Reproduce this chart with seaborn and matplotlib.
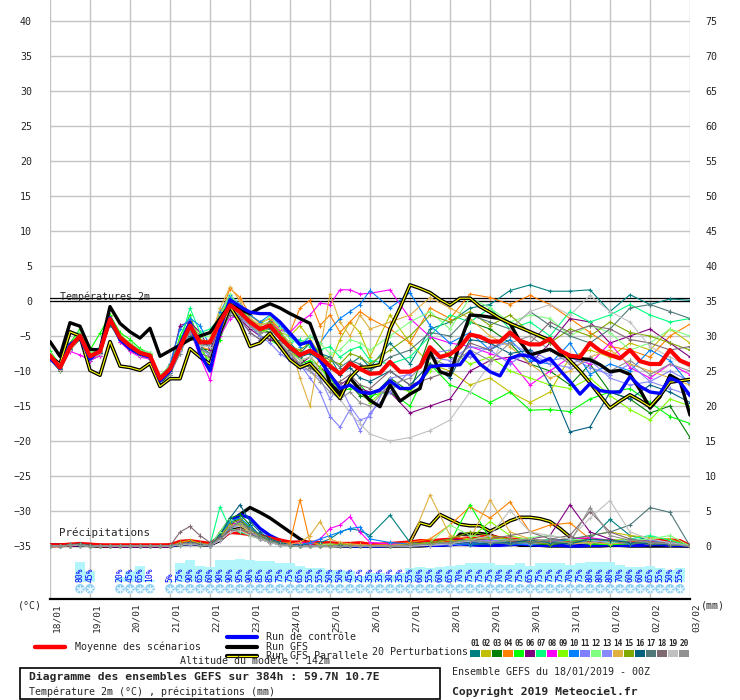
import matplotlib
matplotlib.use('Agg')
import matplotlib.pyplot as plt
import matplotlib.transforms as mtransforms
from matplotlib.lines import Line2D
from matplotlib.patches import Rectangle
import pandas as pd
import seaborn as sns

# echeances (heures depuis le 18/01 00Z)
heures = list(range(0, 390, 6))
heures_pert = list(range(0, 198, 6)) + list(range(204, 390, 12))
jours = ['18/01', '19/01', '20/01', '21/01', '22/01', '23/01', '24/01', '25/01', '26/01',
         '27/01', '28/01', '29/01', '30/01', '31/01', '01/02', '02/02', '03/02']

# temperature 2m
moyenne_t = [-7.8, -9.5, -6.6, -5.0, -7.9, -7.2, -2.6, -5.2, -6.4, -7.4, -7.8, -11.1, -9.7, -6.6, -3.5, -5.9,
             -5.9, -3.0, -0.6, -1.6, -3.0, -4.0, -3.5, -5.2, -6.6, -7.7, -7.1, -8.0, -9.3, -10.4, -8.9, -9.7,
             -10.4, -10.3, -8.7, -10.1, -10.1, -9.4, -6.6, -8.0, -7.6, -6.6, -4.8, -5.1, -5.8, -5.8, -4.5, -5.7,
             -6.2, -6.2, -5.4, -7.1, -7.8, -8.0, -6.0, -7.1, -7.7, -8.2, -7.0, -8.6, -9.0, -9.0, -7.0, -8.5, -9.1]
controle_t = [-8.2, -9.6, -6.2, -5.2, -8.3, -7.0, -2.4, -5.5, -6.8, -7.6, -8.0, -11.4, -10.0, -6.2, -3.0, -7.5,
              -10.0, -4.0, 0.2, -0.8, -1.6, -1.8, -1.8, -3.0, -4.6, -6.2, -5.8, -8.5, -10.5, -12.5, -12.0, -13.0,
              -13.2, -12.7, -11.4, -12.5, -12.5, -11.5, -9.4, -9.2, -9.2, -9.1, -7.2, -9.0, -10.1, -10.7, -8.2, -7.7,
              -7.9, -8.8, -8.2, -9.9, -11.5, -13.3, -11.8, -12.8, -13.0, -13.0, -10.8, -12.2, -13.0, -13.2, -11.0, -11.6, -13.5]
gfs_t = [-5.8, -7.9, -3.1, -3.6, -6.9, -7.0, -0.8, -3.2, -4.4, -5.3, -3.9, -7.9, -7.1, -6.3, -5.5, -5.0,
         -4.5, -2.5, -0.5, -1.2, -1.8, -1.0, -0.4, -1.0, -1.8, -2.5, -3.2, -7.0, -11.8, -13.2, -11.0, -12.7,
         -14.2, -15.1, -12.0, -14.3, -13.3, -12.5, -7.2, -10.1, -10.6, -6.0, -2.0, -2.1, -2.3, -2.5, -3.2, -5.8,
         -7.7, -7.3, -6.9, -7.7, -8.0, -8.2, -8.4, -9.1, -10.1, -9.9, -10.5, -12.7, -15.3, -13.7, -10.6, -11.4, -16.3]
parallele_t = [-8.0, -9.0, -4.4, -5.0, -9.9, -10.6, -5.8, -9.3, -9.5, -9.9, -8.9, -12.2, -11.1, -11.1, -6.8, -8.0,
               -9.0, -4.5, -0.8, -3.1, -6.5, -6.0, -4.6, -6.5, -8.4, -9.5, -8.9, -10.5, -12.2, -13.9, -11.0, -9.5,
               -9.4, -9.1, -4.0, -1.0, 2.3, 1.8, 1.2, 0.2, -0.6, 0.4, 0.4, -0.8, -1.6, -2.5, -3.2, -3.8,
               -4.4, -5.0, -5.6, -7.0, -8.5, -10.0, -11.7, -13.5, -15.3, -14.3, -13.4, -14.2, -15.1, -13.5, -11.6, -11.4, -11.2]

pert_t = {
    '01': [-8.0, -9.8, -6.9, -5.3, -8.2, -7.0, -2.9, -5.5, -6.8, -7.0, -7.5, -11.5, -10.3, -7.5, -4.0, -6.5, -7.5,
           -3.8, -1.0, -2.2, -3.5, -4.5, -2.8, -4.5, -6.0, -7.5, -6.0, -7.5, -8.0, -10.5, -9.0, -8.0, -9.5,
           -6, -9, -4, -3, -1, -0.5, 1.5, 2.3, 1.4, 1.4, 1.6, -1.5, 0.9, -0.5, 0.3, 0.1],
    '02': [-7.5, -9.2, -6.0, -4.6, -7.5, -6.8, -2.2, -4.8, -6.0, -7.8, -8.2, -11.5, -9.0, -5.5, -2.8, -5.0, -4.5,
           -2.0, 0.5, -1.0, -2.0, -3.0, -2.5, -4.5, -5.0, -3.5, -5.5, -7.5, -9.0, -5.5, -3.0, -4.5, -8.0,
           -2, -6, -9, -10, -12, -11, -13, -14.5, -13, -8, -7, -8, -6, -7, -4, -6],
    '03': [-8.3, -10.0, -7.0, -5.5, -8.5, -7.8, -3.2, -5.8, -7.0, -7.8, -8.3, -11.8, -10.5, -7.0, -4.2, -6.8, -7.0,
           -2.5, 0.0, -1.0, -2.5, -4.0, -4.5, -6.0, -7.5, -8.0, -9.5, -10.5, -12.0, -13.0, -12.0, -13.5, -14.0,
           -11, -13, -5, -8, -3, -4, -6, -9, -10, -12, -9, -13, -14, -16, -15, -19.5],
    '04': [-7.5, -9.8, -6.3, -4.8, -7.6, -7.5, -2.0, -5.0, -6.2, -7.2, -7.6, -10.8, -9.3, -5.8, -3.0, -6.5, -7.0,
           -2.2, 1.8, 0.5, -2.0, -3.2, -2.5, -4.0, -4.5, -1.0, 0.1, -3.5, -2.0, -4.5, -3.0, -1.5, -2.5,
           -4, -6, -1, -2.5, 1.0, 0.5, -0.5, 0.8, -0.5, -2.5, -4.5, -6.5, -7, -8, -5, -3.3],
    '05': [-7.2, -9.0, -6.0, -4.0, -7.0, -4.6, -2.0, -4.5, -5.5, -6.8, -7.5, -11.0, -10.0, -5.0, -2.0, -6.0, -9.5,
           -5.5, -1.5, -2.0, -3.5, -5.0, -5.5, -6.5, -8.0, -9.0, -8.5, -9.5, -11.0, -13.0, -12.5, -12.0, -13.5,
           -13, -15, -9, -12, -13, -14.5, -13, -15.6, -15.5, -15.8, -14, -13, -12.5, -14.5, -16.5, -17.5],
    '06': [-8.2, -9.7, -7.0, -5.2, -8.0, -7.5, -3.0, -5.5, -6.5, -7.5, -8.0, -11.3, -9.5, -3.5, -3.0, -4.5, -7.0,
           -3.5, -1.0, -2.5, -4.0, -5.0, -5.5, -6.0, -8.0, -9.0, -8.0, -9.5, -10.5, -12.0, -11.0, -12.5, -13.0,
           -13, -16, -15, -14, -10, -8.5, -8, -9, -6, -2.5, -3, -6, -5, -4, -6, -8],
    '07': [-7.5, -9.2, -6.3, -4.5, -7.8, -6.5, -2.5, -5.0, -6.0, -7.0, -7.4, -11.0, -9.3, -6.0, -1.0, -4.5, -4.0,
           -2.5, 0.5, -1.0, -2.5, -3.5, -3.0, -4.8, -6.0, -5.5, -6.5, -7.0, -6.5, -8.0, -7.0, -6.5, -8.5,
           -9, -8, -5, -2, -3, -1, -4, -3, -5, -1.5, -3, -2, -0.5, -2, -3, -2.5],
    '08': [-8.0, -9.8, -7.2, -7.7, -8.5, -7.8, -3.0, -5.8, -7.2, -8.0, -8.3, -11.3, -10.2, -7.0, -4.2, -8.0, -11.3,
           -5.0, -2.5, -2.0, -3.5, -4.0, -3.0, -4.2, -4.5, -3.0, -2.0, -0.3, -0.5, 1.6, 1.6, 1.0, 1.1,
           1.6, -2.5, -5.1, -6.0, -6.5, -7.5, -8.5, -12, -10, -8, -9, -6, -9.5, -11, -9, -10.5],
    '09': [-7.6, -9.3, -6.4, -4.8, -7.7, -7.0, -2.4, -5.0, -6.3, -7.3, -7.6, -10.8, -9.8, -7.0, -4.5, -7.0, -8.5,
           -3.5, -0.5, -1.2, -2.8, -4.5, -4.0, -5.5, -7.0, -8.5, -8.0, -9.5, -11.5, -12.5, -12.0, -13.0, -14.5,
           -12, -13, -10, -7, -9, -8, -10, -11, -12, -12.5, -11, -13.5, -15.5, -17, -14, -15],
    '10': [-8.1, -9.6, -6.8, -5.4, -8.2, -7.4, -3.2, -5.6, -6.7, -7.6, -8.0, -11.0, -9.0, -4.0, -2.5, -3.5, -6.5,
           -1.5, 0.8, -0.5, -2.0, -3.0, -2.0, -3.5, -5.0, -6.5, -5.0, -6.0, -4.0, -2.5, -1.5, -0.5, 1.5,
           -1.0, 1.2, -3.5, -6, -4.5, -7, -5.5, -8.5, -9, -6, -10.5, -9, -10, -7, -8.5, -12],
    '11': [-7.9, -9.6, -6.5, -5.0, -8.0, -7.3, -2.7, -5.3, -6.5, -7.5, -7.9, -11.2, -9.6, -6.5, -3.5, -6.5, -8.0,
           -4.0, -2.0, -2.5, -3.5, -5.0, -6.0, -7.5, -8.5, -9.0, -11.0, -13.0, -16.5, -18.0, -15.5, -18.5, -16.0,
           -13, -10, -8, -8.5, -6.5, -7, -9, -7, -8.5, -8, -9.5, -10.5, -9, -11.5, -10, -11.5],
    '12': [-7.4, -9.1, -6.2, -4.5, -7.4, -6.8, -2.3, -4.9, -6.0, -7.0, -7.4, -10.6, -9.2, -6.2, -3.0, -5.2, -5.0,
           -2.0, 1.0, -0.8, -2.5, -3.5, -2.2, -3.8, -5.5, -6.0, -5.0, -6.0, -7.5, -7.0, -5.5, -6.0, -7.0,
           -5, -3, -1.5, -4, 0.5, -1, -3, -2, -2.5, -5, -3.5, -4.5, -7, -6, -4, -5],
    '13': [-8.1, -9.7, -6.9, -5.2, -8.1, -7.4, -2.8, -5.4, -6.6, -7.6, -8.0, -11.4, -10.0, -7.2, -4.5, -7.5, -9.0,
           -4.5, -1.5, -2.8, -4.5, -5.5, -5.0, -6.5, -8.0, -9.5, -10.0, -11.0, -14.0, -12.0, -15.0, -17.0, -16.5,
           -11, -10.5, -7.5, -7, -8, -6.5, -6, -7.5, -9, -9.5, -8.5, -11, -12, -11.5, -12.5, -13.5],
    '14': [-7.7, -9.4, -6.5, -5.2, -7.8, -7.1, -2.5, -5.1, -6.3, -7.3, -7.8, -11.0, -9.5, -6.0, -3.8, -6.0, -5.5,
           -1.0, 2.0, 0.0, -2.5, -3.5, -3.0, -4.5, -6.0, -11.0, -15.0, -7.0, 1.0, -3.0, -5.0, -2.0, -4.0,
           -3, -2, 0.5, -1, -2.5, -5, -6.5, -9, -11, -10, -8, -7, -9, -10, -11, -12],
    '15': [-7.9, -9.5, -6.7, -5.1, -8.0, -7.3, -2.7, -5.3, -6.4, -7.5, -7.9, -11.1, -9.8, -6.8, -3.3, -5.5, -5.8,
           -3.2, -1.0, -1.8, -3.2, -4.2, -3.0, -4.5, -6.5, -7.0, -6.0, -7.5, -8.5, -9.0, -7.5, -8.0, -9.0,
           -7, -5, -2, -3, -1.5, -3.5, -2, -4.5, -6, -4, -5, -3, -4.5, -5, -6, -7],
    '16': [-8.0, -9.7, -6.8, -5.2, -8.1, -7.4, -3.4, -5.4, -6.6, -7.6, -8.0, -11.3, -10.0, -7.0, -5.0, -6.5, -6.0,
           -2.8, -0.2, -1.2, -3.0, -4.0, -3.8, -5.5, -7.0, -8.0, -7.5, -8.5, -9.5, -10.5, -9.5, -11.0, -11.5,
           -10, -12, -9, -11, -5.5, -6, -7.5, -7, -12, -18.7, -18, -13, -14, -12, -13, -14.5],
    '17': [-7.8, -9.5, -6.6, -5.0, -7.9, -7.2, -2.6, -5.2, -6.4, -7.4, -7.8, -11.1, -9.7, -6.6, -3.0, -6.0, -6.5,
           -3.2, -1.0, -1.5, -3.0, -4.0, -4.0, -5.5, -7.0, -8.0, -7.0, -8.5, -8.0, -9.5, -8.5, -9.0, -10.0,
           -8, -7, -4.5, -5, -2, -3, -4, -1.5, -3.5, -5, -6, -4, -1, -0.5, -1.5, -2.5],
    '18': [-7.7, -9.3, -6.4, -4.9, -7.8, -7.0, -2.5, -5.1, -6.3, -7.3, -7.7, -10.9, -9.5, -6.0, -4.0, -7.5, -8.0,
           -4.5, -2.0, -2.5, -4.5, -5.5, -5.0, -6.5, -7.5, -9.0, -9.5, -10.5, -12.0, -11.5, -10.5, -12.0, -12.5,
           -10, -12, -11, -10, -6, -7, -5, -6, -3, -4.5, -3.5, -4, -5.5, -6, -7, -6.5],
    '19': [-8.2, -9.9, -7.0, -5.4, -8.3, -7.6, -3.0, -5.6, -6.8, -7.8, -8.2, -11.5, -10.1, -7.0, -4.0, -6.4, -6.5,
           -3.5, -1.2, -2.0, -3.5, -4.5, -4.5, -6.0, -7.5, -8.5, -8.0, -10.0, -11.5, -14.0, -16.0, -17.5, -19.0,
           -20, -19.5, -18.5, -17, -13, -9, -4, -1.5, -0.5, -2, 0.8, -1.5, -3, -6.5, -8, -9.5],
    '20': [-7.8, -9.6, -6.6, -5.1, -8.0, -7.3, -2.7, -5.3, -6.5, -7.5, -7.8, -11.4, -10.5, -7.5, -4.5, -7.0, -7.5,
           -4.0, -1.5, -2.0, -3.5, -4.5, -4.5, -6.0, -7.5, -9.0, -10.0, -11.5, -13.0, -14.0, -13.0, -14.5, -15.0,
           -12, -11, -8, -9.5, -7, -8.5, -6, -5, -7, -9, -8, -10, -8.5, -10.5, -9, -10],
}

# precipitations (mm)
moyenne_p = [0.1, 0.1, 0.2, 0.3, 0.2, 0.1, 0.1, 0.1, 0.1, 0.1, 0.1, 0.1, 0.1, 0.6, 0.7, 0.5, 0.3, 1.1, 2.0, 1.9,
             1.7, 1.4, 1.1, 0.8, 0.5, 0.5, 0.5, 0.4, 0.4, 0.3, 0.3, 0.4, 0.2, 0.2, 0.3, 0.4, 0.5, 0.7, 0.7, 0.8,
             0.9, 1.0, 1.1, 1.2, 1.4, 1.1, 0.9, 0.9, 0.8, 0.6, 0.5, 0.7, 0.9, 0.9, 0.8, 0.7, 0.6, 0.5, 0.5, 0.6,
             0.7, 0.7, 0.8, 0.7, 0.0]
controle_p = [0.1, 0.1, 0.1, 0.2, 0.1, 0.1, 0, 0, 0, 0, 0, 0, 0, 0.3, 0.5, 0.3, 0.2, 1.5, 3.5, 4.5,
              4.0, 2.5, 1.5, 0.8, 0.4, 0.2, 0.1, 0.1, 0.1, 0.1, 0, 0, 0, 0, 0.1, 0.1, 0.2, 0.2, 0.1, 0.1,
              0.2, 0.3, 0.2, 0.1, 0.1, 0.1, 0.2, 0.3, 0.2, 0.1, 0.1, 0.1, 0, 0, 0.1, 0.1, 0.2, 0.1, 0.1, 0.1,
              0.2, 0.2, 0.1, 0.1, 0.0]
gfs_p = [0.1, 0.1, 0.1, 0.1, 0.1, 0, 0, 0, 0, 0, 0, 0, 0, 0.2, 0.3, 0.2, 0.1, 1.0, 3.0, 4.5,
         5.5, 4.8, 4.0, 3.0, 2.0, 1.0, 0.3, 0.1, 0.1, 0, 0, 0, 0, 0, 0, 0, 0, 0, 0.1, 0.1,
         0.2, 1.7, 1.7, 1.8, 1.6, 1.0, 0.4, 0.1, 0.1, 0.1, 0, 0, 0, 0, 0, 0, 0.1, 0.1, 0, 0,
         0, 0, 0, 0, 0.0]
parallele_p = [0.1, 0.1, 0.1, 0.1, 0.1, 0, 0, 0, 0, 0, 0, 0, 0.1, 0.4, 0.5, 0.3, 0.2, 0.8, 2.2, 2.5,
               2.0, 1.5, 1.0, 0.5, 0.2, 0.1, 0.1, 0.1, 0.1, 0.1, 0.1, 0.1, 0.1, 0.1, 0.1, 0.1, 0.6, 3.3, 2.9, 4.5,
               3.8, 3.1, 2.9, 2.9, 2.1, 2.8, 3.6, 4.1, 4.1, 3.9, 3.5, 2.5, 1.3, 0.4, 0.2, 0.1, 0.1, 0.1, 0.1, 0.1,
               0.1, 0.1, 0.1, 0.1, 0.0]

pert_p = {
    '01': [0, 0, 0.2, 0.3, 0.1, 0, 0, 0, 0, 0, 0, 0, 0, 0.3, 0.5, 0.3, 0.1, 1.5, 3.0, 3.5, 2.5, 1.5, 1.0, 0.5, 0.2,
           0.1, 0.3, 0.5, 1.0, 2.0, 2.5, 2.2, 1.5, 4.4, 0.5, 0.3, 0.5, 0.2, 0.3, 0.5, 0.3, 0.2, 0.5, 1.0, 3.8, 1.5, 0.8, 0.5, 0],
    '02': [0, 0, 0.1, 0.2, 0, 0, 0, 0, 0, 0, 0, 0, 0, 0.5, 0.8, 0.4, 0.2, 1.0, 2.5, 3.0, 2.0, 1.2, 0.6, 0.3, 0.1,
           0, 0, 0, 0.1, 0.2, 0.1, 0, 0, 0, 0.2, 0.5, 0.8, 1.0, 1.2, 1.0, 0.8, 0.5, 0.8, 1.5, 2.0, 1.5, 1.2, 1.0, 0],
    '03': [0, 0, 0.1, 0.1, 0, 0, 0, 0, 0, 0, 0, 0, 0, 0.2, 0.4, 0.2, 0.1, 2.0, 4.0, 4.5, 3.0, 1.5, 0.8, 0.3, 0.1,
           0, 0, 0, 0, 0.1, 0, 0, 0, 0, 0.1, 0.3, 0.5, 1.0, 0.8, 0.5, 0.3, 0.2, 0.5, 0.3, 0.2, 0.5, 0.3, 0.2, 0],
    '04': [0, 0, 0.1, 0.2, 0, 0, 0, 0, 0, 0, 0, 0, 0, 0.3, 0.5, 0.3, 0.1, 1.0, 2.0, 2.5, 1.5, 1.0, 0.5, 0.3, 0.5,
           6.6, 0.5, 0.3, 0.2, 0.1, 0.1, 0.2, 0.1, 0.2, 0.5, 1.0, 3.0, 5.6, 4.0, 6.3, 2.0, 3.0, 3.3, 1.0, 0.5, 0.8, 0.5, 0.3, 0],
    '05': [0, 0, 0.1, 0.1, 0, 0, 0, 0, 0, 0, 0, 0, 0, 0.2, 0.3, 0.2, 0.1, 1.5, 3.5, 4.0, 2.5, 1.5, 0.8, 0.3, 0.1,
           0, 0, 0, 0, 0, 0, 0, 0, 0, 0.1, 0.3, 0.5, 5.9, 1.0, 0.5, 0.3, 0.5, 0.5, 0.3, 0.2, 0.3, 0.5, 0.2, 0],
    '06': [0, 0, 0.1, 0.2, 0, 0, 0, 0, 0, 0, 0, 0, 0, 0.3, 0.5, 0.3, 0.1, 1.0, 3.0, 3.8, 2.2, 1.0, 0.5, 0.2, 0.1,
           0, 0, 0, 0, 0, 0.1, 0, 0, 0, 0.2, 0.5, 1.0, 0.8, 0.5, 0.3, 1.0, 1.5, 5.9, 2.0, 1.0, 0.5, 0.3, 0.2, 0],
    '07': [0, 0, 0.1, 0.1, 0, 0, 0, 0, 0, 0, 0, 0, 0, 0.2, 0.4, 0.3, 0.1, 5.6, 2.5, 2.0, 1.5, 1.0, 0.5, 0.2, 0.1,
           0, 0, 0, 0, 0, 0, 0, 0, 0, 0.1, 0.3, 0.5, 0.8, 0.5, 0.3, 0.5, 1.0, 0.8, 0.5, 0.3, 1.0, 1.5, 0.8, 0],
    '08': [0, 0, 0.1, 0.1, 0, 0, 0, 0, 0, 0, 0, 0, 0, 0.3, 0.5, 0.3, 0.1, 1.2, 3.0, 3.5, 2.0, 1.2, 0.6, 0.3, 0.2,
           0.5, 0.3, 1.0, 2.5, 3.0, 4.2, 2.0, 0.5, 0.3, 0.2, 0.2, 0.3, 0.5, 0.8, 1.0, 0.5, 0.8, 1.0, 1.2, 0.8, 0.5, 0.3, 0.2, 0],
    '09': [0, 0, 0.1, 0.1, 0, 0, 0, 0, 0, 0, 0, 0, 0, 0.2, 0.3, 0.2, 0.1, 1.0, 2.8, 3.3, 2.2, 1.2, 0.6, 0.3, 0.1,
           0, 0, 0, 0, 0, 0, 0, 0, 0, 0.1, 0.2, 0.5, 1.0, 3.5, 1.5, 0.8, 0.5, 0.3, 0.5, 0.8, 1.0, 0.5, 0.3, 0],
    '10': [0, 0, 0.1, 0.2, 0, 0, 0, 0, 0, 0, 0, 0, 0, 0.3, 0.4, 0.2, 0.1, 1.5, 3.5, 4.0, 2.8, 1.5, 0.8, 0.3, 0.1,
           0.2, 0.5, 1.0, 1.5, 2.0, 2.5, 2.7, 1.0, 0.5, 0.3, 0.2, 0.2, 0.3, 0.5, 0.3, 0.2, 0.5, 1.0, 0.8, 0.5, 0.3, 0.5, 0.3, 0],
    '11': [0, 0, 0.1, 0.1, 0, 0, 0, 0, 0, 0, 0, 0, 0, 0.1, 0.2, 0.1, 0, 0.8, 2.0, 2.5, 1.8, 1.0, 0.5, 0.2, 0.1,
           0, 0, 0, 0, 0, 0, 0, 0, 0, 0, 0.1, 0.3, 0.5, 0.8, 1.0, 0.5, 0.3, 0.5, 0.8, 0.5, 1.0, 0.8, 0.5, 0],
    '12': [0, 0, 0.1, 0.2, 0, 0, 0, 0, 0, 0, 0, 0, 0, 0.2, 0.3, 0.2, 0.1, 2.0, 3.8, 3.0, 2.0, 1.0, 0.5, 0.2, 0.1,
           0, 0, 0.2, 0.3, 0.2, 0.1, 0, 0, 0, 0.2, 0.5, 3.0, 1.5, 1.0, 0.8, 1.2, 1.5, 1.0, 0.8, 0.5, 0.8, 1.0, 1.5, 0],
    '13': [0, 0, 0.1, 0.1, 0, 0, 0, 0, 0, 0, 0, 0, 0, 0.2, 0.3, 0.2, 0.1, 1.0, 2.5, 3.0, 2.0, 1.0, 0.5, 0.2, 0.1,
           0, 0, 0, 0, 0, 0, 0, 0, 0, 0, 0.1, 0.2, 0.5, 0.8, 0.5, 0.3, 0.5, 0.3, 0.5, 0.8, 0.5, 0.3, 0.2, 0],
    '14': [0, 0, 0.1, 0.1, 0, 0, 0, 0, 0, 0, 0, 0, 0, 0.3, 0.5, 0.3, 0.1, 1.5, 3.0, 3.0, 2.0, 1.5, 1.0, 0.5, 0.3,
           0.5, 1.5, 3.5, 1.0, 0.5, 0.3, 0.2, 0.1, 0.1, 0.3, 7.3, 1.5, 1.0, 6.6, 2.0, 1.0, 0.5, 0.3, 0.5, 0.3, 0.5, 0.3, 0.2, 0],
    '15': [0, 0, 0.1, 0.2, 0, 0, 0, 0, 0, 0, 0, 0, 0, 0.2, 0.4, 0.2, 0.1, 1.2, 3.2, 3.8, 2.5, 1.5, 0.8, 0.3, 0.1,
           0, 0, 0, 0.1, 0.2, 0.1, 0, 0, 0, 0.2, 0.5, 1.0, 2.0, 1.5, 1.0, 0.5, 0.3, 0.5, 1.0, 0.8, 0.5, 0.3, 0.2, 0],
    '16': [0, 0, 0.1, 0.2, 0, 0, 0, 0, 0, 0, 0, 0, 0, 0.3, 0.5, 0.3, 0.1, 1.5, 4.0, 5.9, 3.5, 2.0, 1.0, 0.5, 0.2,
           0.1, 0, 0, 0, 0.1, 0, 0, 0, 0, 0.1, 0.2, 0.3, 0.5, 0.3, 0.5, 0.8, 0.5, 0.3, 1.0, 0.8, 0.5, 0.3, 0.2, 0],
    '17': [0, 0, 0.1, 0.1, 0, 0, 0, 0, 0, 0, 0, 0, 0, 0.2, 0.3, 0.2, 0.1, 1.0, 2.5, 3.5, 2.5, 1.5, 0.8, 0.3, 0.1,
           0, 0, 0, 0, 0, 0, 0, 0, 0, 0.1, 0.2, 0.5, 0.8, 0.5, 0.3, 0.5, 0.8, 1.0, 1.5, 2.0, 3.0, 5.5, 4.8, 0],
    '18': [0, 0, 0.1, 0.2, 0, 0, 0, 0, 0, 0, 0, 0, 0, 2.0, 2.8, 1.5, 0.5, 1.2, 2.0, 2.5, 1.8, 1.0, 0.5, 0.2, 0.1,
           0, 0, 0, 0, 0, 0, 0, 0, 0, 0.1, 0.2, 0.5, 0.8, 1.0, 1.5, 2.0, 1.0, 1.5, 4.9, 2.0, 1.0, 0.5, 0.3, 0],
    '19': [0, 0, 0.1, 0.1, 0, 0, 0, 0, 0, 0, 0, 0, 0, 0.2, 0.3, 0.2, 0.1, 0.8, 2.0, 2.2, 1.5, 1.0, 0.5, 0.2, 0.1,
           0, 0, 0, 0, 0, 0, 0, 0, 0, 0, 0.1, 0.3, 0.8, 1.5, 5.1, 2.0, 1.5, 1.0, 4.0, 6.5, 2.0, 1.0, 0.5, 0],
    '20': [0, 0, 0.1, 0.2, 0, 0, 0, 0, 0, 0, 0, 0, 0, 0.3, 0.4, 0.2, 0.1, 1.0, 2.8, 3.2, 2.2, 1.2, 0.6, 0.3, 0.1,
           0, 0, 0, 0, 0, 0, 0, 0, 0, 0.1, 0.3, 0.5, 0.8, 0.5, 0.8, 1.0, 0.8, 0.5, 5.5, 1.5, 0.8, 0.5, 0.3, 0],
}

couleurs_pert = ['#008080', '#c0c000', '#008000', '#ff8000', '#00ff00', '#800080', '#00ff80', '#ff00ff',
                 '#80ff00', '#0080ff', '#8080ff', '#80ff80', '#8888ff', '#e0b040', '#80a800', '#006080',
                 '#507878', '#806870', '#c0c0c0', '#909090']

# probabilite de neige (%) par pas de 6h, None = pas de neige
heures_neige = list(range(18, 384, 6))
neige_pct = [80, 45, None, None, 20, 45, 65, 10, None, 5, 75, 90, 65, 60, 90, 90, 95, 90, 85, 85, 75, 75,
             65, 55, 55, 50, 50, 45, 25, 35, 35, 30, 35, 55, 60, 55, 60, 65, 70, 75, 75, 75, 70, 70, 75, 65,
             75, 75, 75, 70, 75, 80, 80, 80, 70, 60, 60, 65, 55, 50, 55]

sns.set_style('white')
plt.rcParams['font.family'] = ['DejaVu Sans Mono', 'DejaVu Sans']
mono = 7.2

fig = plt.figure(figsize=(7.4, 7.0), dpi=100)
ax = fig.add_axes([50 / 740, 101 / 700, 640 / 740, 599 / 700])
ylo, yhi = -42.57, 43.0
ax.set_xlim(0, 384)
ax.set_ylim(ylo, yhi)

ax.set_yticks(range(-35, 45, 5))
ax.set_xticks(range(0, 385, 24))
ax.set_xticklabels([])
ax.grid(True, color='#c4c4c4', lw=1.0)
ax.set_axisbelow(True)
for s in ['left', 'right', 'top']:
    ax.spines[s].set_visible(False)
ax.spines['bottom'].set_color('black')
ax.spines['bottom'].set_linewidth(1.6)
ax.tick_params(axis='y', length=0, pad=13, labelsize=mono)
ax.tick_params(axis='x', length=9, width=1, color='#b0b0b0', direction='out')

# ligne des 0 degres
ax.axhline(0, color='black', lw=0.9, zorder=3)
ax.axhline(0.4, color='black', lw=0.9, zorder=3)
ax.text(6, 0.55, 'Températures 2m', fontsize=mono, va='center', ha='left', zorder=4)
ax.text(5.4, -33.1, 'Précipitations', fontsize=mono + 0.6, va='center', ha='left', zorder=4)

palette = {k: c for k, c in zip(pert_t.keys(), couleurs_pert)}

rows = []
for k, vals in pert_t.items():
    for h, v in zip(heures_pert, vals):
        rows.append((k, h, v))
df_t = pd.DataFrame(rows, columns=['membre', 'heure', 'temp'])

rows = []
for k, vals in pert_p.items():
    for h, v in zip(heures_pert, vals):
        rows.append((k, h, v))
df_p = pd.DataFrame(rows, columns=['membre', 'heure', 'pluie'])

# perturbations temperature
sns.lineplot(data=df_t, x='heure', y='temp', hue='membre', palette=palette, estimator=None,
             lw=0.8, legend=False, ax=ax, zorder=5)
sns.scatterplot(data=df_t, x='heure', y='temp', hue='membre', palette=palette, marker='+',
                s=10, linewidth=0.8, legend=False, ax=ax, zorder=5)

# runs principaux
sns.lineplot(x=heures, y=gfs_t, color='black', lw=2.4, ax=ax, zorder=6)
sns.lineplot(x=heures, y=parallele_t, color='black', lw=2.6, ax=ax, zorder=6)
sns.lineplot(x=heures, y=parallele_t, color='#ffff00', lw=0.8, ax=ax, zorder=6)
sns.lineplot(x=heures, y=controle_t, color='#0000ff', lw=2.4, ax=ax, zorder=7)
sns.lineplot(x=heures, y=moyenne_t, color='#ff0000', lw=3.0, ax=ax, zorder=8)

# neige : barres cyan + pourcentages + flocons
neige_h = [h for h, p in zip(heures_neige, neige_pct) if p is not None]
neige_v = [p for p in neige_pct if p is not None]
ax.bar(neige_h, [p * 0.0353 for p in neige_v], bottom=-40.14, width=6.1, color='#b2f5fb',
       edgecolor='none', zorder=2)
for h, p in zip(neige_h, neige_v):
    ax.text(h, -40.1, f'{p}%', rotation=90, ha='center', va='bottom', fontsize=5.8,
            color='#0000ff', zorder=4)
ax.scatter(neige_h, [-41.1] * len(neige_h), s=46, marker='o', color='#8fd0f2',
           edgecolor='none', zorder=3)
ax.scatter(neige_h, [-41.1] * len(neige_h), s=24, marker=(6, 2, 0), color='#e6f7ff',
           linewidth=0.7, zorder=4)

ax.set_xlabel('')
ax.set_ylabel('')

# axe precipitations (mm) a droite
ax2 = ax.twinx()
ax2.set_ylim(ylo + 35, yhi + 35)
ax2.set_yticks(range(0, 80, 5))
for s in ax2.spines.values():
    s.set_visible(False)
ax2.tick_params(axis='y', length=0, pad=11, labelsize=mono)
sns.lineplot(data=df_p, x='heure', y='pluie', hue='membre', palette=palette, estimator=None,
             lw=0.8, legend=False, ax=ax2, zorder=5)
sns.scatterplot(data=df_p, x='heure', y='pluie', hue='membre', palette=palette, marker='+',
                s=10, linewidth=0.8, legend=False, ax=ax2, zorder=5)
sns.lineplot(x=heures, y=gfs_p, color='black', lw=2.4, ax=ax2)
sns.lineplot(x=heures, y=parallele_p, color='black', lw=2.6, ax=ax2)
sns.lineplot(x=heures, y=parallele_p, color='#ffff00', lw=0.8, ax=ax2)
sns.lineplot(x=heures, y=controle_p, color='#0000ff', lw=2.4, ax=ax2)
sns.lineplot(x=heures, y=moyenne_p, color='#ff0000', lw=3.0, ax=ax2)
ax2.set_ylabel('')
ax2.set_xlim(0, 384)

# dates sous l'axe
off = mtransforms.ScaledTranslation(6.5 / 100, -4 / 100, fig.dpi_scale_trans)
trans = mtransforms.blended_transform_factory(ax.transData, ax.transAxes) + off
for i, d in enumerate(jours):
    ax.text(i * 24, 0, d, transform=trans, rotation=90, ha='center', va='top', fontsize=6.8)


def fx(x):
    return x / 740


def fy(y):
    return 1 - y / 700


fig.text(fx(30), fy(606), '(°C)', ha='center', va='center', fontsize=mono)
fig.text(fx(713), fy(606), '(mm)', ha='center', va='center', fontsize=mono)

# legende
fig.add_artist(Line2D([fx(35), fx(65)], [fy(647), fy(647)], color='#ff0000', lw=3.2))
fig.text(fx(75), fy(647), 'Moyenne des scénarios', va='center', fontsize=mono)
fig.add_artist(Line2D([fx(227), fx(257)], [fy(637), fy(637)], color='#0000ff', lw=3.0))
fig.text(fx(266), fy(637), 'Run de contrôle', va='center', fontsize=mono)
fig.add_artist(Line2D([fx(227), fx(257)], [fy(647), fy(647)], color='black', lw=3.0))
fig.text(fx(266), fy(647), 'Run GFS', va='center', fontsize=mono)
fig.add_artist(Line2D([fx(227), fx(257)], [fy(656), fy(656)], color='black', lw=3.0))
fig.add_artist(Line2D([fx(227), fx(257)], [fy(656), fy(656)], color='#ffff00', lw=0.9))
fig.text(fx(266), fy(656), 'Run GFS Parallele', va='center', fontsize=mono)
fig.text(fx(180), fy(661), 'Altitude du modèle : 142m', va='center', fontsize=mono)
fig.text(fx(372), fy(652), '20 Perturbations', va='center', fontsize=mono)
for i, c in enumerate(couleurs_pert):
    x0 = 470 + i * 11
    fig.add_artist(Rectangle((fx(x0), fy(657)), 10 / 740, 7 / 700, transform=fig.transFigure,
                             color=c, lw=0))
    fig.text(fx(x0 + 5), fy(643), f'{i + 1:02d}', ha='center', va='center', fontsize=5.6,
             weight='bold')

# cartouche
fig.add_artist(Rectangle((fx(20), fy(699)), 420 / 740, 31 / 700, transform=fig.transFigure,
                         fill=False, ec='black', lw=1.2))
fig.text(fx(29), fy(677), 'Diagramme des ensembles GEFS sur 384h : 59.7N 10.7E', va='center',
         fontsize=8.2, weight='bold')
fig.text(fx(29), fy(692), 'Température 2m (°C) , précipitations (mm)', va='center', fontsize=mono)
fig.text(fx(452), fy(672), 'Ensemble GEFS du 18/01/2019 - 00Z', va='center', fontsize=mono)
fig.text(fx(452), fy(692), 'Copyright 2019 Meteociel.fr', va='center', fontsize=8.2, weight='bold')

fig.savefig('out.png', dpi=100)
